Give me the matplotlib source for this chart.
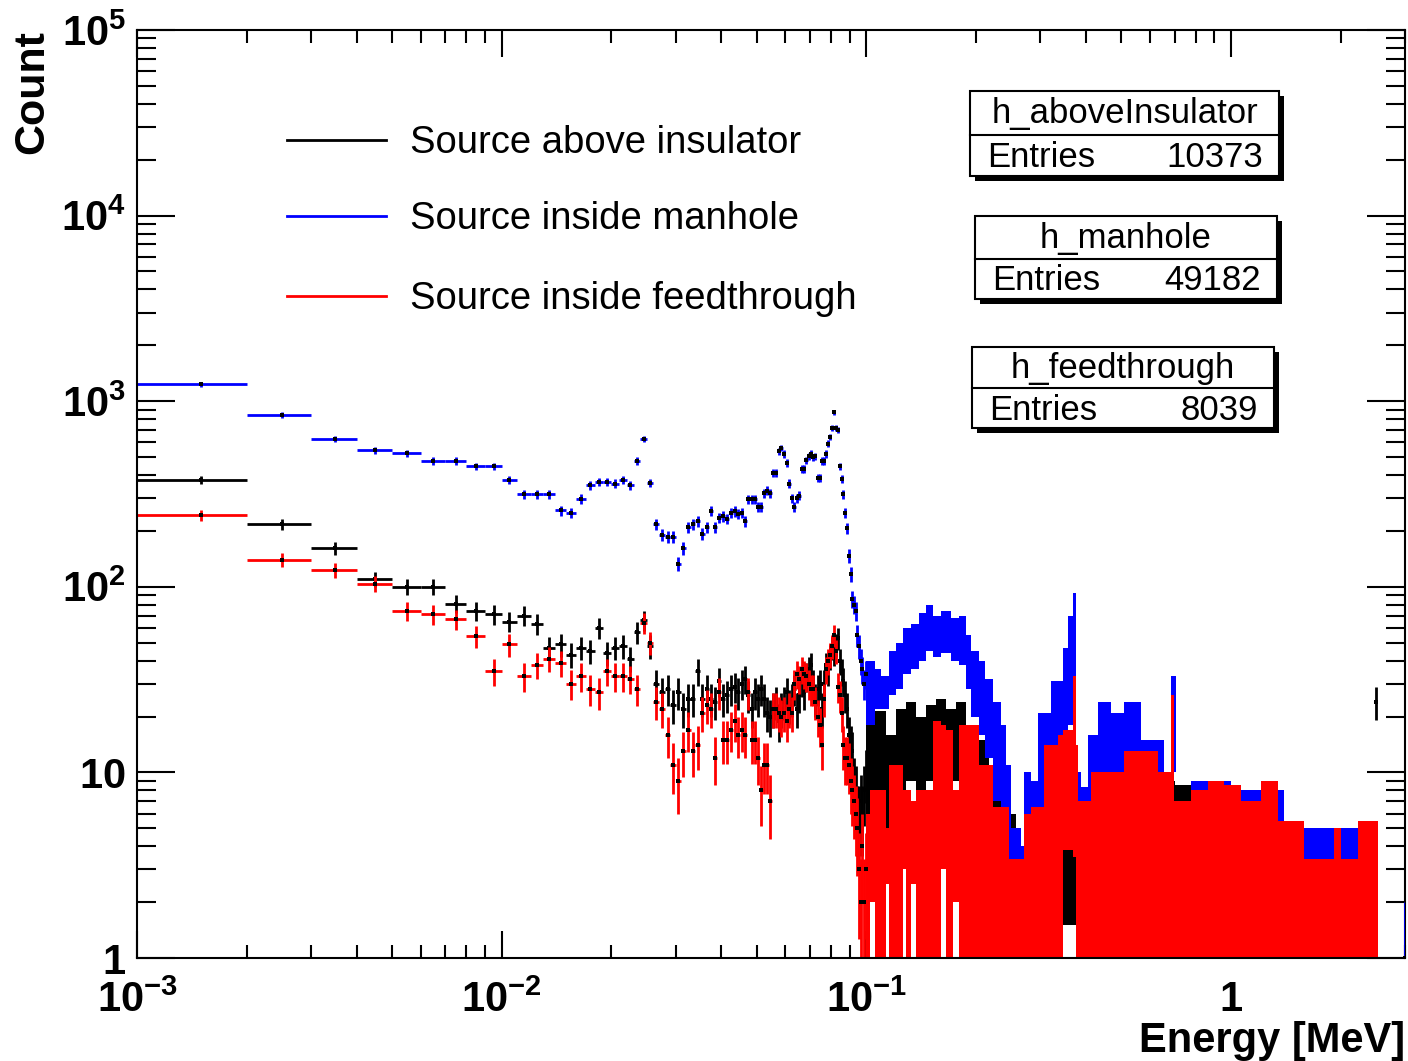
import matplotlib
matplotlib.use('Agg')
import matplotlib.pyplot as plt
from matplotlib.ticker import LogLocator, NullFormatter
from matplotlib.lines import Line2D
from matplotlib.patches import Rectangle
import numpy as np

plt.rcParams['font.family'] = ['Liberation Sans', 'DejaVu Sans']
plt.rcParams['mathtext.fontset'] = 'custom'
plt.rcParams['mathtext.rm'] = 'Liberation Sans:bold'
plt.rcParams['mathtext.bf'] = 'Liberation Sans:bold'

# ---- data: 1 keV bins from 1 keV to 100 keV (bin k = [k, k+1] keV) ----
blue_low = [
    1235, 841, 625, 545, 525, 476, 476, 446, 446, 376,   # 1-10
    316, 316, 316, 258, 250, 298, 353, 367, 367, 360,    # 11-20
    376, 353, 476, 625, 362, 218, 190, 185, 185, 133,    # 21-30
    162, 210, 218, 225, 193, 210, 256, 210, 235, 240,    # 31-40
    232, 250, 255, 248, 250, 225, 297, 297, 297, 270,    # 41-50
    270, 320, 330, 320, 410, 410, 538, 560, 520, 465,    # 51-60
    360, 300, 270, 300, 310, 431, 431, 480, 506, 520,    # 61-70
    500, 506, 385, 385, 476, 476, 520, 590, 640, 716,    # 71-80
    870, 716, 700, 445, 380, 316, 250, 207, 147, 117,    # 81-90
    86, 80, 74, 55, 48, 40, 36, 30, 34,                  # 91-99
]
black_low = [
    376, 217, 161, 110, 100, 100, 81, 74, 71, 65,
    70, 63, 47, 49, 43, 47, 45, 60, 44, 47,
    48, 41, 57, 66, 48, 30, 27, 28, 23, 27,
    22, 25, 25, 35, 25, 28, 25, 24, 31, 25,
    26, 28, 29, 27, 30, 32, 26, 22, 27, 25,
    28, 25, 21, 20, 22, 24, 19, 22, 24, 27,
    23, 25, 28, 22, 26, 31, 27, 33, 36, 38,
    30, 25, 28, 30, 22, 30, 38, 35, 42, 47,
    44, 49, 53, 40, 35, 31, 26, 22, 16, 14,
    13, 9, 8, 6, 6, 7, 6, 8, 10,
]
red_low = [
    243, 140, 123, 104, 74, 71, 67, 54, 35, 49,
    33, 38, 41, 39, 30, 33, 28, 27, 35, 33,
    33, 32, 28, 64, 50, 24, 22, 16, 11, 9,
    13, 17, 13, 14, 21, 23, 22, 12, 27, 15,
    15, 17, 19, 16, 17, 16, 27, 15, 15, 12,
    8, 11, 11, 7, 22, 22, 21, 20, 21, 19,
    22, 21, 30, 34, 32, 36, 34, 33, 30, 28,
    28, 24, 20, 18, 14, 25, 36, 40, 43, 48,
    55, 45, 29, 26, 21, 14, 12, 12, 11, 9,
    8, 7, 6, 5, 3, 2, 4, 2, 3,
]

# ---- dense part above 100 keV: envelope (top / bottom) of the merged error bars ----
blue_edges = [0.100, 0.1057, 0.1094, 0.1155, 0.1204, 0.1258, 0.1328, 0.1396, 0.1459, 0.1521,
              0.1600, 0.1706, 0.1794, 0.1873, 0.1933, 0.2031, 0.2120, 0.2223, 0.2336, 0.2411,
              0.2490, 0.2651, 0.2701, 0.2825, 0.2953, 0.3206, 0.3460, 0.3573, 0.3687, 0.3757,
              0.3877, 0.4052, 0.4314, 0.4686, 0.5085, 0.5662, 0.6545, 0.6845, 0.7066, 0.7770,
              1.0, 1.4, 2.53]
blue_up = [40, 36, 33, 45, 50, 60, 63, 72, 80, 70,
           74, 68, 70, 55, 45, 40, 32, 24, 18, 11,
           5, 4, 10, 9, 21, 31, 47, 70, 93, 10,
           8.3, 16, 24, 21, 24, 15, 9.5, 33, 7, 9,
           8, 5]
blue_lo = [18, 22, 22, 26, 28, 34, 36, 40, 45, 42,
           44, 40, 38, 28, 20, 16, 12, 7, 5, 3,
           1.5, 1, 2.5, 3, 6, 10, 14, 18, 24, 5,
           4, 6, 8, 8, 8, 6, 4, 10, 2, 1,
           1, 1]

black_edges = [0.100, 0.1057, 0.1131, 0.1204, 0.1282, 0.1369, 0.1459, 0.1552, 0.1650, 0.1760,
               0.1873, 0.1993, 0.2165, 0.2366, 0.2568, 0.2825, 0.3010, 0.3350, 0.3804, 0.45,
               0.70, 1.0, 1.4, 2.0, 2.45]
black_up = [19, 21.5, 16, 22, 24, 20, 23, 25, 22, 24, 18, 15,
            10, 6, 4, 7, 8, 12, 8, 9, 8.5, 8, 5, 5]
black_lo = [6, 5, 5, 8, 9, 8, 9, 9, 9, 9, 7, 5,
            3, 1, 1, 1, 1, 1.5, 1, 1, 1, 1, 1, 1]

red_edges = [0.100, 0.1025, 0.1057, 0.1131, 0.1155, 0.1258, 0.1282, 0.1328, 0.1369, 0.1521,
             0.1600, 0.1650, 0.1727, 0.1794, 0.2031, 0.2223, 0.2458, 0.2701, 0.2825, 0.3067,
             0.3350, 0.3460, 0.3687, 0.3757, 0.3804, 0.4130, 0.5085, 0.6306, 0.6845, 0.6976,
             0.7770, 0.8646, 0.9567, 1.065, 1.209, 1.345, 1.586, 1.731, 1.917, 2.005,
             2.229, 2.53]
red_up = [6, 8, 8, 5, 11, 8, 8, 7, 8, 19,
          18, 17, 8, 18, 11, 6.5, 3.4, 6, 6.5, 14,
          16, 17, 33, 14, 7, 10, 13, 10, 26, 7,
          8, 9, 8.5, 7, 9, 5.5, 3.4, 3.4, 5, 3.4,
          5.5]
red_lo = [1, 2, 1, 2.5, 1, 3, 1, 2.5, 1, 1,
          3, 1, 2, 1, 1, 1, 1, 1, 1, 1,
          1, 3.8, 3.5, 1, 1, 1, 1, 1, 1, 1,
          1, 1, 1, 1, 1, 1, 1, 1, 1, 1,
          1]

# single isolated bins near the end of the range (MeV, counts)
black_last_E, black_last_N = [2.4955], [24]
blue_last_E, blue_last_N = [2.9965], [1]

legend_labels = ['Source above insulator', 'Source inside manhole', 'Source inside feedthrough']
stat_names = ['h_aboveInsulator', 'h_manhole', 'h_feedthrough']
stat_entries = ['10373', '49182', '8039']

W, H = 1408, 1061
fig = plt.figure(figsize=(W / 100, H / 100), dpi=100)
ax = fig.add_axes([137 / W, 1 - 958 / H, (1405 - 137) / W, (958 - 30) / H])
ax.set_xscale('log')
ax.set_yscale('log')

lw = 2.0


def draw_bins(lo_e, hi_e, counts, color, z):
    lo_e = np.asarray(lo_e, float)
    hi_e = np.asarray(hi_e, float)
    n = np.asarray(counts, float)
    xc = 0.5 * (lo_e + hi_e)
    err = np.sqrt(n)
    low = np.maximum(n - err, 0.5)
    ax.hlines(n, lo_e, hi_e, colors=color, lw=lw, zorder=z)
    ax.vlines(xc, low, n + err, colors=color, lw=lw, zorder=z)
    ax.plot(xc, n, 's', ms=2.2, mew=0, color='k', zorder=z + 0.1)


def draw_band(edges, up, lo, color, z):
    e = np.asarray(edges, float)
    u = np.append(up, up[-1])
    l = np.append(lo, lo[-1])
    ax.fill_between(e, l, u, step='post', color=color, lw=0, zorder=z)


k = np.arange(1, 100)
lo_e = k * 1e-3
hi_e = (k + 1) * 1e-3

draw_bins(lo_e, hi_e, black_low, 'black', 2)
draw_band(black_edges, black_up, black_lo, 'black', 2)
draw_bins(np.array(black_last_E) - 5e-4, np.array(black_last_E) + 5e-4, black_last_N, 'black', 2)

draw_bins(lo_e, hi_e, blue_low, '#0000ff', 3)
draw_band(blue_edges, blue_up, blue_lo, '#0000ff', 3)
draw_bins(np.array(blue_last_E) - 5e-4, np.array(blue_last_E) + 5e-4, blue_last_N, '#0000ff', 11)

draw_bins(lo_e, hi_e, red_low, '#ff0000', 4)
draw_band(red_edges, red_up, red_lo, '#ff0000', 4)

# axes styling (ROOT look)
for s in ax.spines.values():
    s.set_linewidth(1.5)
    s.set_zorder(10)
ax.xaxis.set_minor_locator(LogLocator(base=10, subs=np.arange(2, 10), numticks=20))
ax.yaxis.set_minor_locator(LogLocator(base=10, subs=np.arange(2, 10), numticks=20))
ax.xaxis.set_minor_formatter(NullFormatter())
ax.yaxis.set_minor_formatter(NullFormatter())
ax.set_xticks([1e-3, 1e-2, 1e-1, 1],
              [r'$\mathbf{10^{-3}}$', r'$\mathbf{10^{-2}}$', r'$\mathbf{10^{-1}}$', r'$\mathbf{1}$'])
ax.set_yticks([1, 10, 1e2, 1e3, 1e4, 1e5],
              [r'$\mathbf{1}$', r'$\mathbf{10}$', r'$\mathbf{10^{2}}$', r'$\mathbf{10^{3}}$',
               r'$\mathbf{10^{4}}$', r'$\mathbf{10^{5}}$'])
ax.tick_params(which='both', direction='in', top=True, right=True, width=1.5, labelsize=30)
ax.tick_params(axis='y', which='major', length=27.5, pad=8)
ax.tick_params(axis='y', which='minor', length=14)
ax.tick_params(axis='x', which='major', length=19.5, pad=16)
ax.tick_params(axis='x', which='minor', length=9.5)
ax.set_xlim(1e-3, 3.0)
ax.set_ylim(1, 1e5)


def fx(x):
    return x / W


def fy(y):
    return 1 - y / H


fig.text(fx(32), fy(30), 'Count', rotation=90, ha='center', va='top',
         fontsize=31, fontweight='bold')
fig.text(fx(1405), fy(1052), 'Energy [MeV]', ha='right', va='baseline',
         fontsize=30, fontweight='bold')

# legend
leg_y = [140, 216, 296]
leg_c = ['black', '#0000ff', '#ff0000']
for yy, cc, lab in zip(leg_y, leg_c, legend_labels):
    fig.add_artist(Line2D([fx(287), fx(386)], [fy(yy), fy(yy)], color=cc, lw=lw))
    fig.text(fx(410), fy(yy + 3), lab, ha='left', va='center', fontsize=27.5)

# stat boxes: (left, top, right, divider, bottom) in pixels
boxes = [(970, 91, 1279, 135, 176), (975, 216, 1277, 259, 299), (972, 347, 1274, 388, 428)]
for (l, t, r, d, b), name, ent in zip(boxes, stat_names, stat_entries):
    sh = 5
    fig.add_artist(Rectangle((fx(l + sh), fy(b + sh)), fx(r - l), (b - t) / H,
                             facecolor='black', edgecolor='none', zorder=20))
    fig.add_artist(Rectangle((fx(l), fy(b)), fx(r - l), (b - t) / H,
                             facecolor='white', edgecolor='black', lw=1.5, zorder=21))
    fig.add_artist(Line2D([fx(l), fx(r)], [fy(d), fy(d)], color='black', lw=1.5, zorder=22))
    fig.text(fx((l + r) / 2), fy((t + d) / 2 + 1), name, ha='center', va='center',
             fontsize=25, zorder=23)
    fig.text(fx(l + 17), fy((d + b) / 2 + 2), 'Entries', ha='left', va='center',
             fontsize=25, zorder=23)
    fig.text(fx(r - 16), fy((d + b) / 2 + 2), ent, ha='right', va='center',
             fontsize=25, zorder=23)

fig.savefig('out.png', dpi=100)
